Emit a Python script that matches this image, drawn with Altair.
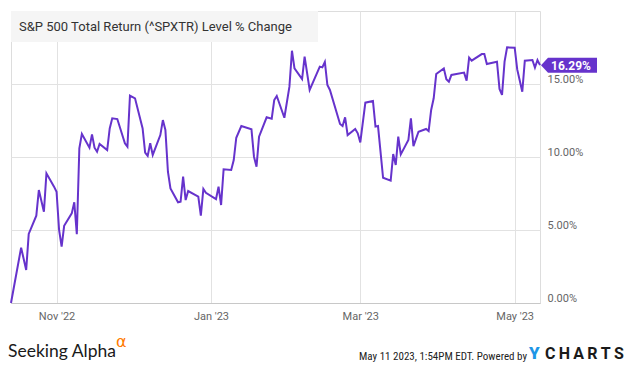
import altair as alt
import pandas as pd

# ---------------- data ----------------
dates = [
    "2022-10-14", "2022-10-18", "2022-10-20", "2022-10-21", "2022-10-24", "2022-10-25",
    "2022-10-27", "2022-10-28", "2022-10-31", "2022-11-01", "2022-11-02", "2022-11-03",
    "2022-11-04", "2022-11-07", "2022-11-08", "2022-11-09", "2022-11-10", "2022-11-11",
    "2022-11-14", "2022-11-15", "2022-11-16", "2022-11-17", "2022-11-18", "2022-11-21",
    "2022-11-22", "2022-11-23", "2022-11-25", "2022-11-28", "2022-11-29", "2022-11-30",
    "2022-12-02", "2022-12-05", "2022-12-06", "2022-12-07", "2022-12-08", "2022-12-09",
    "2022-12-12", "2022-12-13", "2022-12-14", "2022-12-15", "2022-12-16", "2022-12-19",
    "2022-12-20", "2022-12-21", "2022-12-22", "2022-12-23", "2022-12-27", "2022-12-28",
    "2022-12-29", "2022-12-30", "2023-01-03", "2023-01-04", "2023-01-05", "2023-01-06",
    "2023-01-09", "2023-01-10", "2023-01-11", "2023-01-13", "2023-01-17", "2023-01-18",
    "2023-01-19", "2023-01-20", "2023-01-23", "2023-01-25", "2023-01-26", "2023-01-27",
    "2023-01-30", "2023-02-01", "2023-02-02", "2023-02-03", "2023-02-06", "2023-02-07",
    "2023-02-09", "2023-02-13", "2023-02-14", "2023-02-15", "2023-02-16", "2023-02-17",
    "2023-02-21", "2023-02-22", "2023-02-23", "2023-02-24", "2023-02-27", "2023-02-28",
    "2023-03-01", "2023-03-03", "2023-03-06", "2023-03-07", "2023-03-08", "2023-03-10",
    "2023-03-13", "2023-03-14", "2023-03-15", "2023-03-16", "2023-03-17", "2023-03-20",
    "2023-03-21", "2023-03-22", "2023-03-24", "2023-03-27", "2023-03-28", "2023-03-29",
    "2023-03-30", "2023-03-31", "2023-04-03", "2023-04-04", "2023-04-05", "2023-04-06",
    "2023-04-11", "2023-04-12", "2023-04-13", "2023-04-14", "2023-04-18", "2023-04-19",
    "2023-04-20", "2023-04-24", "2023-04-25", "2023-04-26", "2023-04-27", "2023-04-28",
    "2023-05-01", "2023-05-02", "2023-05-04", "2023-05-05", "2023-05-08", "2023-05-09",
    "2023-05-10", "2023-05-11",
]
values = [
    0.00, 3.79, 2.26, 4.73, 5.98, 7.74,
    6.25, 8.88, 7.97, 7.62, 5.00, 3.86,
    5.29, 6.14, 6.90, 4.71, 10.60, 11.58,
    10.64, 11.55, 10.64, 10.36, 10.89, 10.48,
    11.96, 12.65, 12.60, 10.94, 10.71, 14.20,
    14.02, 11.96, 10.30, 10.07, 10.94, 10.14,
    11.50, 12.53, 11.85, 8.99, 7.85, 6.90,
    6.94, 8.65, 7.05, 7.67, 7.28, 5.98,
    7.81, 7.55, 7.12, 7.97, 6.71, 9.16,
    9.11, 9.79, 11.32, 12.12, 11.90, 10.02,
    9.34, 11.39, 12.72, 12.62, 13.90, 14.18,
    12.69, 14.82, 17.28, 16.07, 15.34, 16.87,
    14.59, 16.19, 16.14, 16.51, 14.93, 14.59,
    12.26, 12.12, 12.72, 11.50, 11.92, 11.62,
    11.00, 13.72, 13.84, 12.08, 12.12, 8.58,
    8.38, 10.20, 9.45, 11.39, 10.18, 11.16,
    12.65, 10.75, 11.73, 11.92, 11.78, 13.22,
    14.02, 15.68, 16.07, 15.32, 15.16, 15.62,
    15.78, 15.23, 16.80, 16.60, 17.05, 17.05,
    16.37, 16.53, 14.66, 14.25, 16.53, 17.51,
    17.49, 16.00, 14.47, 16.60, 16.64, 16.12,
    16.64, 16.29,
]

title_text = ["S&P 500 Total Return (^SPXTR) Level % Change"]
x_domain = ["2022-10-14", "2023-05-11"]
x_ticks = ["2022-11-01", "2023-01-01", "2023-03-01", "2023-05-01"]
y_domain = [0, 20]
y_ticks = [0, 5, 10, 15]
brand_left = ["Seeking Alpha"]
brand_alpha = ["\u03b1"]
stamp_text = ["May 11 2023, 1:54PM EDT.  Powered by"]
ycharts_y = ["Y"]
ycharts_rest = ["\u2009".join("CHARTS")]

# ---------------- styles ----------------
PURPLE = "#6633CC"
GRID = "#e2e2e2"
LABEL = "#666666"
FONT = "Roboto"
NARROW = "'Liberation Sans Narrow', 'Roboto Condensed', 'Arial Narrow', Roboto"
W, H = 529, 292


def dt(s):
    y, m, d = map(int, s.split("-"))
    return alt.DateTime(year=y, month=m, date=d, utc=True)


df = pd.DataFrame({"date": dates, "v": values})
last = pd.DataFrame({
    "date": [dates[-1]],
    "v": [values[-1]],
    "label": [f"{values[-1]:.2f}%"],
})

x_enc = alt.X(
    "date:T",
    scale=alt.Scale(type="utc", domain=[dt(s) for s in x_domain]),
    axis=alt.Axis(
        values=[dt(s) for s in x_ticks],
        labelExpr="utcFormat(datum.value, '%b') + \" '\" + utcFormat(datum.value, '%y')",
        title=None, ticks=False, tickSize=0, labelPadding=7, labelFlush=False,
        grid=True, gridColor=GRID, domainColor="#c8c8c8",
        labelColor=LABEL, labelFontSize=11, labelFont=FONT,
    ),
)
y_enc = alt.Y(
    "v:Q",
    scale=alt.Scale(domain=y_domain, nice=False, zero=False),
    axis=alt.Axis(
        orient="right", values=y_ticks,
        labelExpr="format(datum.value, '.2f') + '%'",
        title=None, ticks=False, tickSize=0, domain=False, labelPadding=7,
        labelBaseline="bottom", grid=True, gridColor=GRID,
        labelColor=LABEL, labelFontSize=11, labelFont=FONT,
    ),
)

one = pd.DataFrame({"k": [0]})

title_box = alt.Chart(one).mark_rect(color="#f5f5f5").encode(
    x=alt.value(0), x2=alt.value(307), y=alt.value(0), y2=alt.value(31)
)
title = alt.Chart(pd.DataFrame({"t": title_text})).mark_text(
    align="left", baseline="middle", font=FONT, fontSize=13, color="#333333"
).encode(x=alt.value(8), y=alt.value(16), text="t:N")

line = alt.Chart(df).mark_line(color=PURPLE, strokeWidth=2).encode(x=x_enc, y=y_enc)

tag_shape = "M0,0L7,-7.5L56,-7.5L56,7.5L7,7.5Z"
tag = alt.Chart(last).mark_point(
    shape=tag_shape, size=4, filled=True, color=PURPLE, opacity=1, strokeWidth=0
).encode(x=alt.value(530), y=y_enc)
tag_text = alt.Chart(last).mark_text(
    align="left", baseline="middle", font=FONT, fontSize=12, fontWeight="bold",
    color="white", dy=0.5,
).encode(x=alt.value(540), y=y_enc, text="label:N")

sa = alt.Chart(pd.DataFrame({"t": brand_left})).mark_text(
    align="left", baseline="alphabetic", font="Lato", fontSize=17.5, color="#1a1a1a"
).encode(x=alt.value(-3), y=alt.value(346), text="t:N")
sa_alpha = alt.Chart(pd.DataFrame({"t": brand_alpha})).mark_text(
    align="left", baseline="alphabetic", font="DejaVu Sans", fontSize=16, color="#FF7A00"
).encode(x=alt.value(105), y=alt.value(336), text="t:N")
stamp = alt.Chart(pd.DataFrame({"t": stamp_text})).mark_text(
    align="right", baseline="alphabetic", font=NARROW, fontSize=11, color="#222222"
).encode(x=alt.value(516), y=alt.value(349), text="t:N")
yc_y = alt.Chart(pd.DataFrame({"t": ycharts_y})).mark_text(
    align="left", baseline="alphabetic", font=FONT, fontSize=17, fontWeight=900,
    color="#1E96E6"
).encode(x=alt.value(518), y=alt.value(348), text="t:N")
yc_rest = alt.Chart(pd.DataFrame({"t": ycharts_rest})).mark_text(
    align="left", baseline="alphabetic", font=FONT, fontSize=16, fontWeight="bold",
    color="#1a1a1a"
).encode(x=alt.value(534), y=alt.value(348), text="t:N")

chart = alt.layer(
    title_box, title, line, tag, tag_text, sa, sa_alpha, stamp, yc_y, yc_rest
).properties(
    width=W, height=H,
    autosize=alt.AutoSizeParams(type="none"),
    padding={"left": 3, "top": 3, "right": 87, "bottom": 60},
).configure_view(
    stroke="#d6d6d6", strokeWidth=1
).configure(background="white")

chart.save("out.html", embed_options={"renderer": "svg", "actions": False})
